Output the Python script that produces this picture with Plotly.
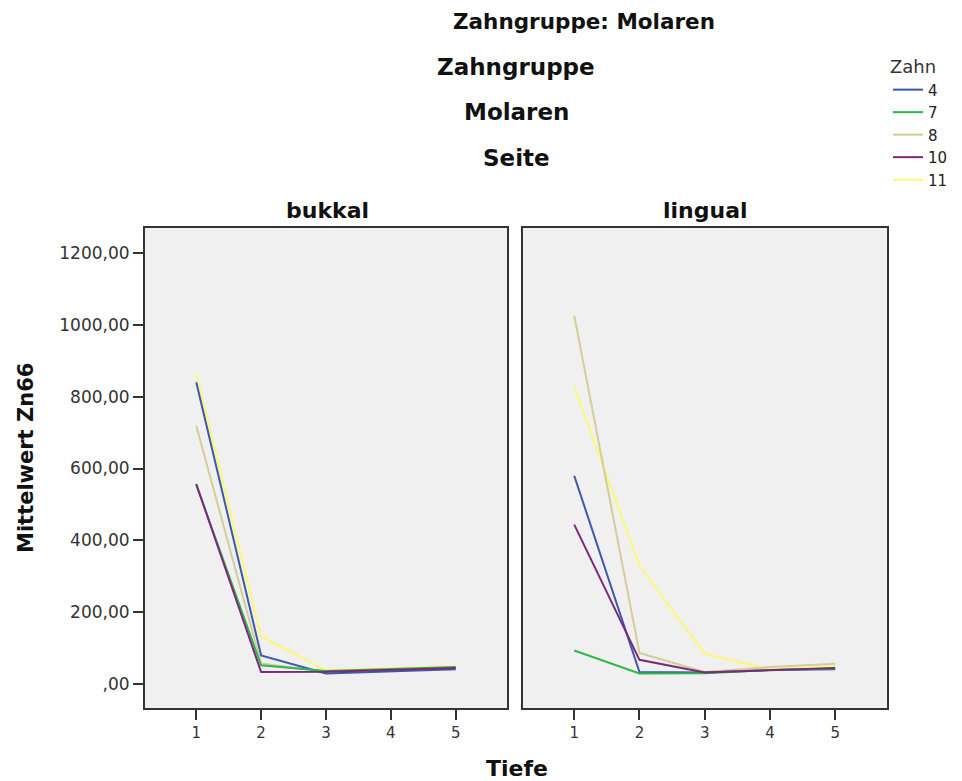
import plotly.graph_objects as go

depth = [1, 2, 3, 4, 5]
teeth = ["4", "7", "8", "10", "11"]
colors = ["#3E58AC", "#2EB848", "#D3CE97", "#7C287D", "#FBF873"]

# bukkal
buk_4 = [840, 80, 30, 36, 42]
buk_7 = [555, 53, 37, 42, 48]
buk_8 = [719, 58, 35, 41, 47]
buk_10 = [557, 34, 35, 40, 45]
buk_11 = [863, 133, 39, 45, 50]
# lingual
lin_4 = [580, 34, 33, 40, 42]
lin_7 = [94, 30, 31, 40, 44]
lin_8 = [1025, 87, 34, 48, 57]
lin_10 = [444, 68, 33, 40, 45]
lin_11 = [828, 330, 85, 41, 50]

buk = [buk_4, buk_7, buk_8, buk_10, buk_11]
lin = [lin_4, lin_7, lin_8, lin_10, lin_11]

yticks = [0, 200, 400, 600, 800, 1000, 1200]
yticklabels = [",00", "200,00", "400,00", "600,00", "800,00", "1000,00", "1200,00"]

W, H = 962, 781
FONT = "DejaVu Sans, Arial, sans-serif"

fig = go.Figure()
order = [4, 2, 0, 1, 3]
for i in order:
    fig.add_trace(go.Scatter(x=depth, y=buk[i], mode="lines", name=teeth[i],
                             line=dict(color=colors[i], width=2), showlegend=False,
                             xaxis="x", yaxis="y"))
    fig.add_trace(go.Scatter(x=depth, y=lin[i], mode="lines", name=teeth[i],
                             line=dict(color=colors[i], width=2), showlegend=False,
                             xaxis="x2", yaxis="y2"))
for i in range(5):
    fig.add_trace(go.Scatter(x=[None], y=[None], mode="lines", name=teeth[i],
                             line=dict(color=colors[i], width=2), showlegend=True,
                             xaxis="x", yaxis="y"))

xl = [145 / W, 507 / W]
xr = [522.7 / W, 886.7 / W]
yd = [(H - 708.3) / H, (H - 227.7) / H]

axis_common = dict(showline=True, linecolor="#333333", linewidth=2, mirror=True,
                   showgrid=False, zeroline=False, ticklen=10,
                   tickcolor="#333333", tickwidth=2)

xfont = dict(family=FONT, size=15, color="#333333")
yfont = dict(family=FONT, size=17, color="#333333")

fig.update_layout(
    width=W, height=H,
    margin=dict(l=0, r=0, t=0, b=0),
    paper_bgcolor="white",
    plot_bgcolor="#F0F0F0",
    xaxis=dict(domain=xl, range=[0.21, 5.79], tickvals=depth, anchor="y", ticks="outside",
               tickfont=xfont, **axis_common),
    xaxis2=dict(domain=xr, range=[0.21, 5.79], tickvals=depth, anchor="y2", ticks="outside",
                tickfont=xfont, **axis_common),
    yaxis=dict(domain=yd, range=[-66.7, 1269.5], tickvals=yticks, ticktext=yticklabels,
               anchor="x", ticks="outside", tickfont=yfont, **axis_common),
    yaxis2=dict(domain=yd, range=[-66.7, 1269.5], tickvals=yticks, showticklabels=False,
                anchor="x2", ticks="", **axis_common),
    showlegend=True,
    legend=dict(x=888 / W, y=1 - 50 / H, xanchor="left", yanchor="top",
                title=dict(text="Zahn", font=dict(family=FONT, size=18, color="#333333"),
                           side="top"),
                font=dict(family=FONT, size=15, color="#222222"),
                bgcolor="rgba(0,0,0,0)", tracegroupgap=0, itemwidth=30),
    font=dict(family=FONT),
)

def ann(text, x, y, size, bold=True):
    fig.add_annotation(text=f"<b>{text}</b>" if bold else text, x=x / W, y=1 - y / H,
                       xref="paper", yref="paper", showarrow=False,
                       font=dict(family=FONT, size=size, color="#111111"),
                       xanchor="center", yanchor="middle")

ann("Zahngruppe: Molaren", 584, 21, 21.5)
ann("Zahngruppe", 516, 67, 23)
ann("Molaren", 516, 112, 23)
ann("Seite", 516, 158, 23)
ann("bukkal", 327, 210, 22)
ann("lingual", 705, 210, 22)
ann("Tiefe", 517, 768, 22)
fig.add_annotation(text="<b>Mittelwert Zn66</b>", x=26 / W, y=1 - 458 / H,
                   xref="paper", yref="paper", showarrow=False, textangle=-90,
                   font=dict(family=FONT, size=21, color="#111111"),
                   xanchor="center", yanchor="middle")

fig.write_html("out.html")
